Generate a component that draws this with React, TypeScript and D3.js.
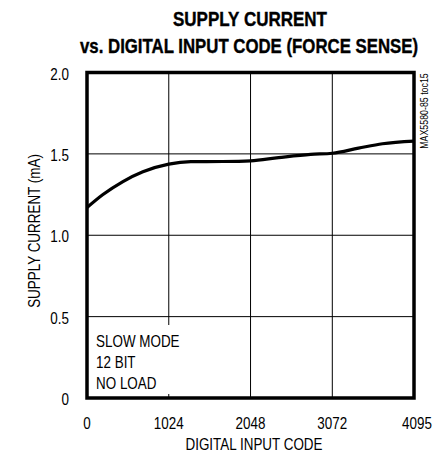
import React from "react";
import * as d3 from "d3";

const titleLines = ["SUPPLY CURRENT", "vs. DIGITAL INPUT CODE (FORCE SENSE)"];
const xTicks = [0, 1024, 2048, 3072, 4095];
const yTicks = [0, 0.5, 1.0, 1.5, 2.0];
const yTickLabels = ["0", "0.5", "1.0", "1.5", "2.0"];
const codes = [0, 200, 450, 700, 1024, 1300, 1700, 2048, 2400, 2800, 3072, 3400, 3700, 4095];
const current = [1.17, 1.25, 1.33, 1.39, 1.437, 1.452, 1.453, 1.457, 1.477, 1.497, 1.504, 1.535, 1.562, 1.578];
const notes = ["SLOW MODE", "12 BIT", "NO LOAD"];
const xLabel = "DIGITAL INPUT CODE";
const yLabel = "SUPPLY CURRENT (mA)";
const sideNote = "MAX5580-85 toc15";

const FONT = "'Liberation Sans', Arial, sans-serif";
const SX = 0.84;

type NTProps = {
  x: number;
  y: number;
  size: number;
  anchor?: "start" | "middle" | "end";
  rotate?: number;
  children: React.ReactNode;
};

function NText({ x, y, size, anchor = "start", rotate = 0, children }: NTProps) {
  return (
    <text
      transform={`translate(${x},${y}) rotate(${rotate}) scale(${SX},1)`}
      textAnchor={anchor}
      fontSize={size}
      fill="#000"
    >
      {children}
    </text>
  );
}

export default function App() {
  const x = d3.scaleLinear().domain([0, 4095]).range([87, 414]);
  const y = d3.scaleLinear().domain([0, 2]).range([398, 72.5]);
  const line = d3
    .line<number>()
    .x((_, i) => x(codes[i]))
    .y((d) => y(d))
    .curve(d3.curveMonotoneX);

  const titleWidths = [154, 338];
  const titleCenters = [250, 249];

  return (
    <svg
      width={446}
      height={455}
      style={{ position: "absolute", left: 0, top: 0, background: "#fff" }}
      fontFamily={FONT}
    >
      <rect width={446} height={455} fill="#fff" />
      {titleLines.map((t, i) => (
        <text
          key={t}
          x={titleCenters[i] - titleWidths[i] / 2}
          y={26 + i * 27}
          textLength={titleWidths[i]}
          lengthAdjust="spacingAndGlyphs"
          fontWeight="bold"
          fontSize={20.5}
          fill="#000"
          stroke="#000"
          strokeWidth={0.4}
        >
          {t}
        </text>
      ))}
      {/* grid */}
      {yTicks.slice(1, -1).map((v) => (
        <line key={"h" + v} x1={x(0)} x2={x(4095)} y1={y(v)} y2={y(v)} stroke="#000" strokeWidth={1} />
      ))}
      {xTicks.slice(1, -1).map((v) => (
        <line key={"v" + v} x1={x(v)} x2={x(v)} y1={y(2)} y2={y(0)} stroke="#000" strokeWidth={1} />
      ))}
      {/* annotation background */}
      <rect x={90} y={325} width={95} height={69} fill="#fff" />
      {notes.map((n, i) => (
        <NText key={n} x={96} y={347 + i * 21} size={16}>
          {n}
        </NText>
      ))}
      {/* curve */}
      <path d={line(current) || ""} fill="none" stroke="#000" strokeWidth={3.2} strokeLinejoin="round" />
      {/* frame */}
      <rect
        x={x(0)}
        y={y(2)}
        width={x(4095) - x(0)}
        height={y(0) - y(2)}
        fill="none"
        stroke="#000"
        strokeWidth={3.5}
      />
      {/* y tick labels */}
      {yTicks.map((v, i) => (
        <NText key={"yl" + v} x={69} y={y(v) + 7} anchor="end" size={16}>
          {yTickLabels[i]}
        </NText>
      ))}
      {/* x tick labels */}
      {xTicks.map((v) => (
        <NText key={"xl" + v} x={x(v) + (v === 4095 ? 3 : 0)} y={429} anchor="middle" size={16}>
          {v}
        </NText>
      ))}
      <NText x={254} y={450} anchor="middle" size={16}>
        {xLabel}
      </NText>
      <NText x={40} y={231} anchor="middle" size={16} rotate={-90}>
        {yLabel}
      </NText>
      <NText x={428} y={111} anchor="middle" size={10.5} rotate={-90}>
        {sideNote}
      </NText>
    </svg>
  );
}
